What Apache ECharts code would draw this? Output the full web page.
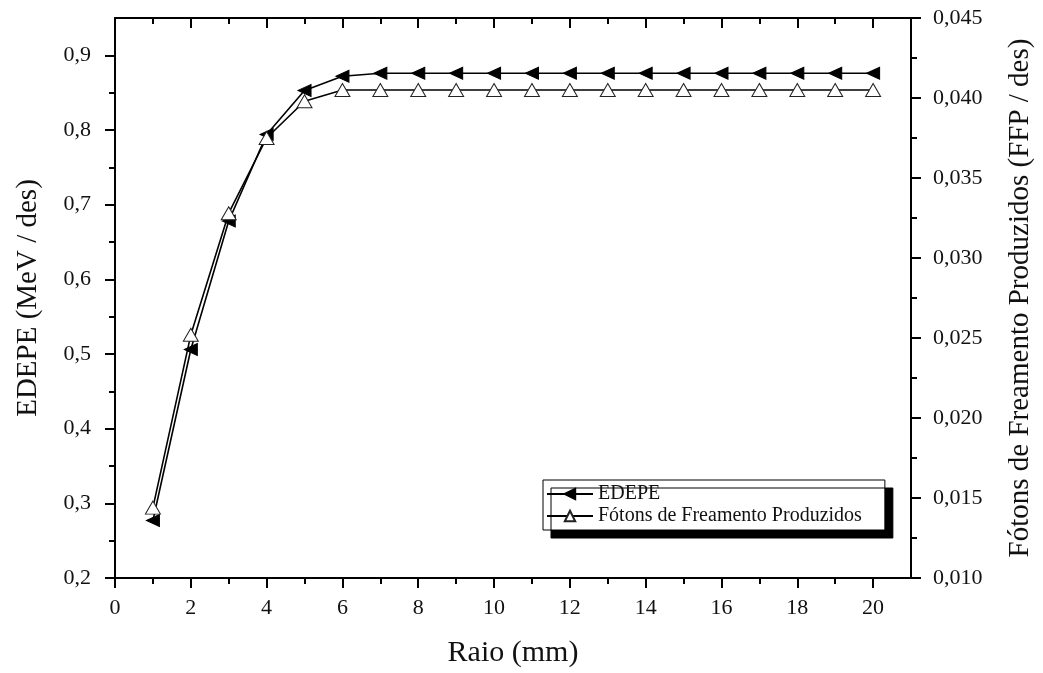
<!DOCTYPE html>
<html>
<head>
<meta charset="utf-8">
<script src="https://cdn.jsdelivr.net/npm/echarts@6/dist/echarts.min.js"></script>
<style>
  html, body { margin: 0; padding: 0; background: #fff; }
  #chart { width: 1043px; height: 673px; }
</style>
</head>
<body>
<div id="chart"></div>
<script>
// Radius of the scoring volume (mm)
const raio = [1, 2, 3, 4, 5, 6, 7, 8, 9, 10, 11, 12, 13, 14, 15, 16, 17, 18, 19, 20];
// Energy deposited per primary (MeV / des), left axis
const edepe = [0.277, 0.506, 0.678, 0.794, 0.853, 0.872, 0.876, 0.876, 0.876, 0.876,
               0.876, 0.876, 0.876, 0.876, 0.876, 0.876, 0.876, 0.876, 0.876, 0.876];
// Bremsstrahlung photons produced per primary (FFP / des), right axis
const fotons = [0.0144, 0.0252, 0.0328, 0.0375, 0.0398, 0.0405, 0.0405, 0.0405, 0.0405, 0.0405,
                0.0405, 0.0405, 0.0405, 0.0405, 0.0405, 0.0405, 0.0405, 0.0405, 0.0405, 0.0405];

// Tick positions
const xMajor = [0, 2, 4, 6, 8, 10, 12, 14, 16, 18, 20];
const xMinor = [1, 3, 5, 7, 9, 11, 13, 15, 17, 19];
const leftMajor = [0.2, 0.3, 0.4, 0.5, 0.6, 0.7, 0.8, 0.9];
const leftMinor = [0.25, 0.35, 0.45, 0.55, 0.65, 0.75, 0.85];

const FONT = '"Liberation Serif", "Times New Roman", serif';
const BLACK = '#000';

const chart = echarts.init(document.getElementById('chart'), null, { renderer: 'canvas' });

const xBase = { type: 'value', min: 0, max: 21, splitLine: { show: false } };
const leftBase = { type: 'value', position: 'left', min: 0.2, max: 0.95, splitLine: { show: false } };

chart.setOption({
  backgroundColor: '#fff',
  animation: false,
  grid: { left: 115, right: 128, top: 18, bottom: 94, containLabel: false },
  legend: {
    orient: 'vertical',
    left: 543,
    top: 480,
    padding: [4, 23, 4, 3],
    itemGap: 2,
    itemWidth: 46,
    itemHeight: 13,
    backgroundColor: '#fff',
    borderColor: BLACK,
    borderWidth: 1,
    shadowColor: BLACK,
    shadowBlur: 0,
    shadowOffsetX: 8,
    shadowOffsetY: 8,
    textStyle: { fontFamily: FONT, fontSize: 20, color: '#111' },
    data: ['EDEPE', 'Fótons de Freamento Produzidos']
  },
  xAxis: [
    Object.assign({}, xBase, {
      position: 'bottom',
      name: 'Raio (mm)',
      nameLocation: 'middle',
      nameGap: 60,
      nameTextStyle: { fontFamily: FONT, fontSize: 30, color: '#111' },
      axisLine: { show: true, onZero: false, lineStyle: { color: BLACK, width: 2 } },
      axisTick: { show: true, inside: false, length: 10, customValues: xMajor, lineStyle: { color: BLACK, width: 2 } },
      axisLabel: { show: true, customValues: xMajor, margin: 19, fontFamily: FONT, fontSize: 22, color: '#111' }
    }),
    Object.assign({}, xBase, {
      position: 'bottom',
      axisLine: { show: false, onZero: false },
      axisTick: { show: true, inside: false, length: 6, customValues: xMinor, lineStyle: { color: BLACK, width: 2 } },
      axisLabel: { show: false }
    }),
    Object.assign({}, xBase, {
      position: 'top',
      axisLine: { show: true, onZero: false, lineStyle: { color: BLACK, width: 2 } },
      axisTick: { show: true, inside: true, length: 10, customValues: xMajor, lineStyle: { color: BLACK, width: 2 } },
      axisLabel: { show: false }
    }),
    Object.assign({}, xBase, {
      position: 'top',
      axisLine: { show: false, onZero: false },
      axisTick: { show: true, inside: true, length: 6, customValues: xMinor, lineStyle: { color: BLACK, width: 2 } },
      axisLabel: { show: false }
    })
  ],
  yAxis: [
    Object.assign({}, leftBase, {
      name: 'EDEPE (MeV / des)',
      nameLocation: 'middle',
      nameGap: 72,
      nameTextStyle: { fontFamily: FONT, fontSize: 29, color: '#111' },
      axisLine: { show: true, onZero: false, lineStyle: { color: BLACK, width: 2 } },
      axisTick: { show: true, inside: false, length: 10, customValues: leftMajor, lineStyle: { color: BLACK, width: 2 } },
      axisLabel: {
        show: true, customValues: leftMajor, margin: 24, fontFamily: FONT, fontSize: 22, color: '#111',
        formatter: v => v.toFixed(1).replace('.', ',')
      }
    }),
    Object.assign({}, leftBase, {
      axisLine: { show: false, onZero: false },
      axisTick: { show: true, inside: false, length: 6, customValues: leftMinor, lineStyle: { color: BLACK, width: 2 } },
      axisLabel: { show: false }
    }),
    {
      type: 'value',
      position: 'right',
      min: 0.010,
      max: 0.045,
      interval: 0.005,
      splitLine: { show: false },
      name: 'Fótons de Freamento Produzidos (FFP / des)',
      nameLocation: 'middle',
      nameGap: 95,
      nameRotate: 90,
      nameTextStyle: { fontFamily: FONT, fontSize: 29, color: '#111' },
      axisLine: { show: true, onZero: false, lineStyle: { color: BLACK, width: 2 } },
      axisTick: { show: true, inside: false, length: 10, lineStyle: { color: BLACK, width: 2 } },
      minorTick: { show: true, splitNumber: 2, length: 6, lineStyle: { color: BLACK, width: 2 } },
      axisLabel: {
        show: true, margin: 22, fontFamily: FONT, fontSize: 22, color: '#111',
        formatter: v => v.toFixed(3).replace('.', ',')
      }
    }
  ],
  series: [
    {
      name: 'EDEPE',
      type: 'line',
      xAxisIndex: 0,
      yAxisIndex: 0,
      data: raio.map((r, i) => [r, edepe[i]]),
      symbol: 'triangle',
      symbolRotate: 90,
      symbolSize: [12, 13],
      showAllSymbol: true,
      lineStyle: { color: BLACK, width: 1.6 },
      itemStyle: { color: BLACK, borderColor: BLACK, borderWidth: 1 },
      z: 3
    },
    {
      name: 'Fótons de Freamento Produzidos',
      type: 'line',
      xAxisIndex: 0,
      yAxisIndex: 2,
      data: raio.map((r, i) => [r, fotons[i]]),
      symbol: 'triangle',
      symbolSize: [15, 13],
      showAllSymbol: true,
      lineStyle: { color: BLACK, width: 1.6 },
      itemStyle: { color: '#fff', borderColor: '#222', borderWidth: 1 },
      z: 4
    }
  ]
});
</script>
</body>
</html>
